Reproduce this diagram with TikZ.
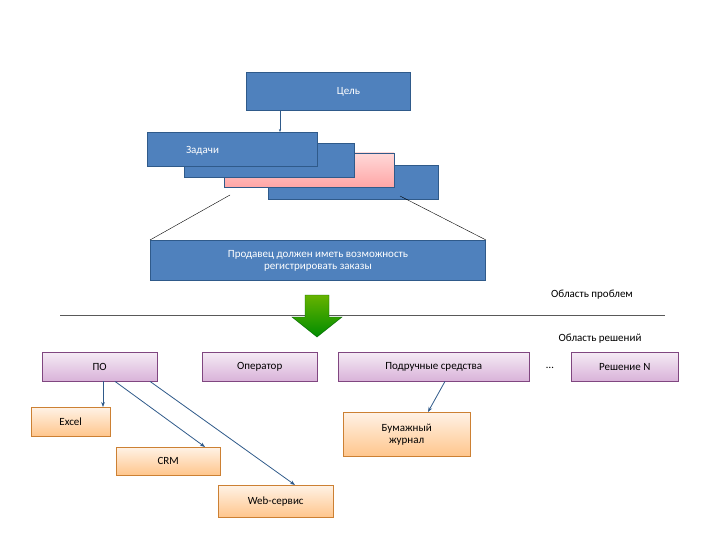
\documentclass[tikz,border=0pt]{standalone}
\usepackage{fontspec}
\setmainfont{Carlito}
\usetikzlibrary{arrows.meta}
\definecolor{bl}{HTML}{4F81BD}
\definecolor{bld}{HTML}{2F5A8A}
\begin{document}
\begin{tikzpicture}[x=1pt,y=-1pt,
 box/.style={draw=bld,fill=bl,line width=1pt,text=white,font=\fontsize{11}{12}\selectfont},
 pinkb/.style={draw=bld,line width=0.6pt,top color=red!15,bottom color=red!35},
 purp/.style={draw=violet!45!gray,top color=violet!8,bottom color=violet!30,font=\fontsize{11}{12}\selectfont},
 orb/.style={draw=orange!60!gray,top color=orange!10,bottom color=orange!45,font=\fontsize{11}{12}\selectfont},
 con/.style={draw=bld,line width=0.8pt,-{Stealth[length=5pt]}},
 lab/.style={font=\fontsize{11}{12}\selectfont}]
\useasboundingbox (0,0) rectangle (720,540);
\path[box] (268,166) rectangle (438,200);
\path[pinkb] (224,153) rectangle (394,187);
\path[box] (184,144) rectangle (354,178);
\node[box,minimum width=170pt,minimum height=34pt,anchor=north west,text depth=0pt] (z) at (147,132) {\hspace*{-60pt}Задачи};
\node[box,minimum width=164pt,minimum height=38pt,anchor=north west] (c) at (246,72) {\hspace*{40pt}Цель};
\draw[draw=bld,-{Stealth[length=3pt]}] (c.south -| 280,0) -- (z.north -| 280,0);
\node[box,minimum width=335pt,minimum height=40pt,anchor=north west,align=center,inner sep=1pt] (p) at (150,240) {Продавец должен иметь возможность\\регистрировать заказы};
\coordinate (l1) at (230,195); \coordinate (l2) at (400,196);
\draw[thin] (l1) -- (p.north west); \draw[thin] (l2) -- (p.north east);
\node[lab] (op) at (592,295) {Область проблем};
\coordinate (h1) at (60,315); \coordinate (h2) at (665,315);
\draw[gray!70!black] (h1) -- (h2);
\path[draw=green!40!black,top color=green!50!black!60!yellow,bottom color=green!55!black,line width=0.4pt]
 (305,295) -- (329,295) -- (329,317) -- (342,317) -- (317,337) -- (292,317) -- (305,317) -- cycle;
\node[lab] (or) at (600,339) {Область решений};
\node[purp,minimum width=115pt,minimum height=29pt,anchor=north west] (po) at (42,352) {ПО};
\node[purp,minimum width=115pt,minimum height=29pt,anchor=north west] (oper) at (202,352) {Оператор};
\node[purp,minimum width=191pt,minimum height=29pt,anchor=north west] (pod) at (338,352) {Подручные средства};
\node[lab] (dots) at (550,368) {…};
\node[purp,minimum width=107pt,minimum height=29pt,anchor=north west] (rn) at (571,352) {Решение N};
\node[orb,minimum width=79pt,minimum height=29pt,anchor=north west] (ex) at (31,407) {Excel};
\node[orb,minimum width=104pt,minimum height=28pt,anchor=north west] (crm) at (116,447) {CRM};
\node[orb,minimum width=115pt,minimum height=32pt,anchor=north west] (web) at (218,485) {Web-сервис};
\node[orb,minimum width=127pt,minimum height=44pt,anchor=north west,align=center,inner sep=1pt] (bj) at (343,412) {Бумажный\\журнал};
\draw[con] (po.south -| 103,0) -- (ex.north -| 103,0);
\draw[con] (po.south -| 115,0) -- (205,447);
\draw[con] (po.south -| 150,0) -- (295,485);
\draw[con] (pod.south -| 445,0) -- (bj.north -| 428,0);
\end{tikzpicture}
\end{document}
